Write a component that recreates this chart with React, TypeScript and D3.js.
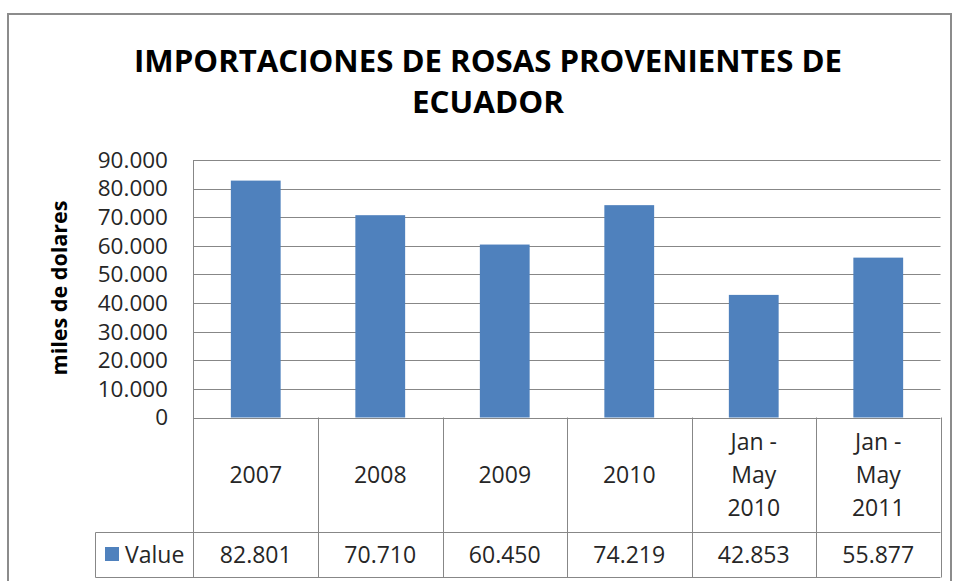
import React from "react";
import * as d3 from "d3";

const TITLE_LINES = ["IMPORTACIONES DE ROSAS PROVENIENTES DE", "ECUADOR"];
const Y_TITLE = "miles de dolares";
const SERIES_NAME = "Value";
const CATEGORIES = ["2007", "2008", "2009", "2010", "Jan - May 2010", "Jan - May 2011"];
const CATEGORY_LINES = [["2007"], ["2008"], ["2009"], ["2010"], ["Jan -", "May", "2010"], ["Jan -", "May", "2011"]];
const VALUES = [82801, 70710, 60450, 74219, 42853, 55877];
const Y_TICKS = [0, 10000, 20000, 30000, 40000, 50000, 60000, 70000, 80000, 90000];

const W = 955;
const H = 581;
const FONT = "'Open Sans', 'Noto Sans', sans-serif";
const BAR = "#4F81BD";
const GRID = "#878787";
const TEXT = "#262626";

const locale = d3.formatLocale({ decimal: ",", thousands: ".", grouping: [3], currency: ["$", ""] });
const fmt = locale.format(",d");

export default function App() {
  const plotLeft = 193.5;
  const plotRight = 940.5;
  const plotTop = 160;
  const plotBottom = 417.5;
  const rowSep = 532.5;
  const tableBottom = 577.5;
  const legendLeft = 95.5;

  const x = d3.scaleBand<string>().domain(CATEGORIES).range([plotLeft, plotRight]).padding(0);
  const y = d3.scaleLinear().domain([0, 90000]).range([plotBottom, plotTop]);
  const bw = x.bandwidth() * 0.4;

  return (
    <svg width={W} height={H} style={{ position: "absolute", left: 0, top: 0, background: "#fff" }}>
      <rect x={8} y={14} width={943} height={H} fill="#fff" stroke="#8c8c8c" strokeWidth={2} />
      {/* title */}
      <text x={488} y={72} textAnchor="middle" fontFamily={FONT} fontWeight="bold" fontSize={31} fill="#000"
        textLength={708} lengthAdjust="spacingAndGlyphs">{TITLE_LINES[0]}</text>
      <text x={488} y={113} textAnchor="middle" fontFamily={FONT} fontWeight="bold" fontSize={31} fill="#000"
        textLength={152} lengthAdjust="spacingAndGlyphs">{TITLE_LINES[1]}</text>
      {/* y title */}
      <text transform={`translate(67,288) rotate(-90)`} textAnchor="middle"
        fontFamily={FONT} fontWeight="bold" fontSize={21} fill="#000" textLength={175} lengthAdjust="spacingAndGlyphs">{Y_TITLE}</text>
      {/* gridlines */}
      {Y_TICKS.map((t) => (
        <g key={t}>
          <line x1={plotLeft} x2={plotRight} y1={Math.round(y(t)) + 0.5} y2={Math.round(y(t)) + 0.5} stroke={GRID} strokeWidth={1} />
          <text x={168} y={y(t)} dy="0.35em" textAnchor="end" fontFamily={FONT} fontSize={22.5} fill={TEXT}>{fmt(t)}</text>
        </g>
      ))}
      {/* bars */}
      {VALUES.map((v, i) => (
        <rect key={i} x={(x(CATEGORIES[i]) as number) + (x.bandwidth() - bw) / 2} y={y(v)} width={bw}
          height={y(0) - y(v)} fill={BAR} />
      ))}
      {/* table */}
      <line x1={plotLeft} x2={plotLeft} y1={plotTop} y2={tableBottom} stroke={GRID} />
      <line x1={plotLeft} x2={plotRight} y1={rowSep} y2={rowSep} stroke={GRID} />
      <line x1={legendLeft} x2={plotRight} y1={tableBottom} y2={tableBottom} stroke={GRID} />
      <line x1={legendLeft} x2={plotLeft} y1={rowSep} y2={rowSep} stroke={GRID} />
      <line x1={legendLeft} x2={legendLeft} y1={rowSep} y2={tableBottom} stroke={GRID} />
      {CATEGORIES.map((c) => (
        <line key={c} x1={Math.round((x(c) as number) + x.bandwidth()) + 0.5} x2={Math.round((x(c) as number) + x.bandwidth()) + 0.5}
          y1={plotBottom} y2={tableBottom} stroke={GRID} />
      ))}
      {CATEGORIES.map((c, i) => {
        const lines = CATEGORY_LINES[i];
        const cx = (x(c) as number) + x.bandwidth() / 2;
        const mid = (plotBottom + rowSep) / 2;
        const lh = 33;
        return (
          <text key={c} textAnchor="middle" fontFamily={FONT} fontSize={23} fill={TEXT}>
            {lines.map((l, j) => (
              <tspan key={j} x={cx} y={mid + (j - (lines.length - 1) / 2) * lh} dy="0.35em">{l}</tspan>
            ))}
          </text>
        );
      })}
      {VALUES.map((v, i) => (
        <text key={i} x={(x(CATEGORIES[i]) as number) + x.bandwidth() / 2} y={(rowSep + tableBottom) / 2} dy="0.35em"
          textAnchor="middle" fontFamily={FONT} fontSize={23} fill={TEXT}>{fmt(v)}</text>
      ))}
      <rect x={105} y={547} width={14} height={14} fill={BAR} />
      <text x={125} y={(rowSep + tableBottom) / 2} dy="0.35em" fontFamily={FONT} fontSize={23} fill={TEXT}>{SERIES_NAME}</text>
    </svg>
  );
}
